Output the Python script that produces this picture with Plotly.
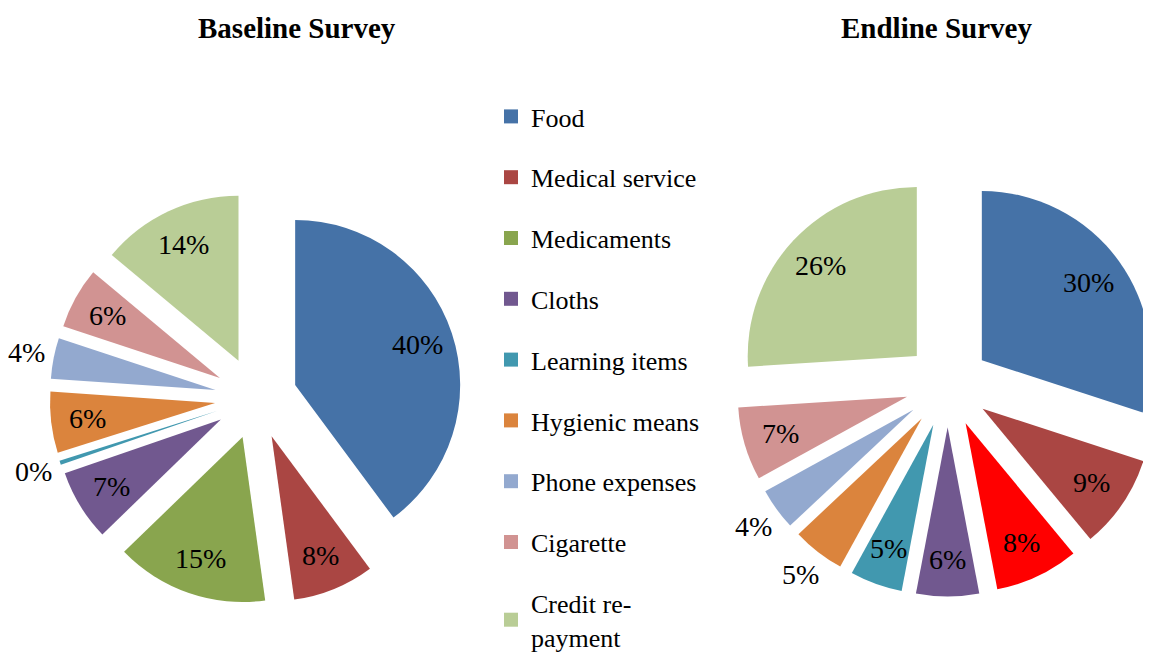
import math
import plotly.graph_objects as go

# Spending categories and shares (%)
categories = ["Food", "Medical service", "Medicaments", "Cloths", "Learning items",
              "Hygienic means", "Phone expenses", "Cigarette", "Credit re-<br>payment"]
baseline = [40, 8, 15, 7, 0.4, 6, 4, 6, 14]
endline = [30, 9, 8, 6, 5, 5, 4, 7, 26]

colors = ["#4572A7", "#AA4643", "#89A54E", "#71588F", "#4198AF",
          "#DB843D", "#93A9CF", "#D19392", "#B9CD96"]
endline_colors = colors[:2] + ["#FF0000"] + colors[3:]

# which labels sit outside their slice
base_outside = [False, False, False, False, True, False, True, False, False]
end_outside = [False, False, False, False, False, True, True, False, False]

W, H = 1151, 652
FONT = "Liberation Serif"
PULL = 0.25


def pie_domain(cx, cy, r):
    # pixel centre (from top-left) and radius -> paper domain box
    half = r * (1 + PULL)
    x0, x1 = max(cx - half, 0), min(cx + half, W)
    y0, y1 = max(H - cy - half, 0), min(H - cy + half, H)
    return dict(x=[x0 / W, x1 / W], y=[y0 / H, y1 / H])


def add_pie(values, cols, outside, dom):
    fig.add_trace(go.Pie(
        labels=categories, values=values, sort=False, direction="clockwise",
        marker=dict(colors=cols), pull=PULL, showlegend=False,
        textinfo="none", hoverinfo="label+percent", domain=dom,
    ))
    # percentage labels placed like the spreadsheet does (further out than plotly)
    w = (dom["x"][1] - dom["x"][0]) * W
    h = (dom["y"][1] - dom["y"][0]) * H
    r = min(w, h) / 2 / (1 + PULL)
    cx = (dom["x"][0] + dom["x"][1]) / 2 * W
    cy = (dom["y"][0] + dom["y"][1]) / 2 * H
    total = sum(values)
    cum = 0
    for v, out in zip(values, outside):
        theta = math.radians((cum + v / 2) / total * 360)
        cum += v
        dist = r * PULL + r * (1.17 if out else 0.78)
        fig.add_annotation(
            text=f"{round(v / total * 100)}%",
            x=(cx + dist * math.sin(theta)) / W, y=(cy + dist * math.cos(theta)) / H,
            xref="paper", yref="paper", showarrow=False,
            xanchor="center", yanchor="middle",
            font=dict(family=FONT, size=28, color="black"),
        )


fig = go.Figure()
add_pie(baseline, colors, base_outside, pie_domain(248, 390, 165))
add_pie(endline, endline_colors, end_outside, pie_domain(942, 377, 171))

# Legend entries (one group each so the gap between them can be set)
for name, col in zip(categories, colors):
    fig.add_trace(go.Scatter(
        x=[None], y=[None], mode="markers", name=name, legendgroup=name,
        marker=dict(symbol="square", size=14, color=col),
    ))

fig.add_annotation(text="<b>Baseline Survey</b>", x=289 / W, y=1 - 20 / H,
                   xref="paper", yref="paper", showarrow=False,
                   xanchor="center", yanchor="middle",
                   font=dict(family=FONT, size=29, color="black"))
fig.add_annotation(text="<b>Endline Survey</b>", x=928 / W, y=1 - 20 / H,
                   xref="paper", yref="paper", showarrow=False,
                   xanchor="center", yanchor="middle",
                   font=dict(family=FONT, size=29, color="black"))

fig.update_layout(
    width=W, height=H,
    margin=dict(l=0, r=0, t=0, b=0, pad=0, autoexpand=False),
    paper_bgcolor="white", plot_bgcolor="white",
    xaxis=dict(visible=False), yaxis=dict(visible=False),
    legend=dict(
        x=483 / W, y=0, xanchor="left", yanchor="bottom",
        font=dict(family=FONT, size=26, color="black"),
        tracegroupgap=24, bgcolor="rgba(0,0,0,0)",
    ),
)

fig.write_html("out.html")
